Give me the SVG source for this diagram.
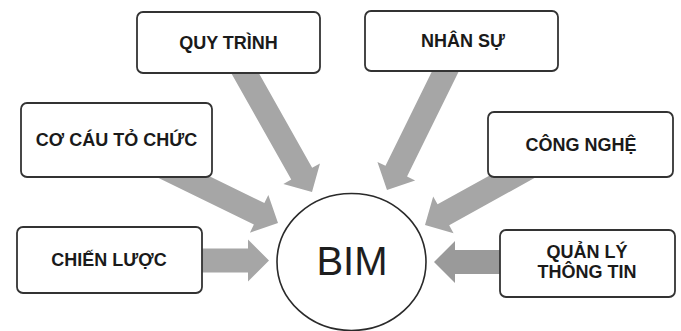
<svg xmlns="http://www.w3.org/2000/svg" width="681" height="331" viewBox="0 0 681 331">
  <style>
    .box { fill: #ffffff; stroke: #333333; stroke-width: 1.8; }
    .lbl { font-family: "Liberation Sans", Arial, sans-serif; font-weight: bold; font-size: 18px; fill: #1a1a1a; text-anchor: middle; }
    .hub { fill: #ffffff; stroke: #2a2a2a; stroke-width: 1.6; }
    .hubtxt { font-family: "Liberation Sans", Arial, sans-serif; font-size: 40px; fill: #1e1e1e; text-anchor: middle; }
    .arr { fill: #a6a6a6; }
    .arr2 { fill: #9a9a9a; }
  </style>
  <rect width="681" height="331" fill="#ffffff"/>
  <g id="connectors">
    <!-- QUY TRINH -> BIM -->
    <polygon class="arr" transform="translate(312,192) rotate(60.6)" points="-150,-12 -21,-12 -21,-21 0,0 -21,21 -21,12 -150,12"/>
    <!-- CO CAU TO CHUC -> BIM -->
    <polygon class="arr" transform="translate(278,223) rotate(26)" points="-135,-12 -21,-12 -21,-21 0,0 -21,21 -21,12 -135,12"/>
    <!-- CHIEN LUOC -> BIM -->
    <polygon class="arr" transform="translate(269,260.5) rotate(0)" points="-80,-12 -21,-12 -21,-21 0,0 -21,21 -21,12 -80,12"/>
    <!-- NHAN SU -> BIM -->
    <polygon class="arr" transform="translate(387,190) rotate(116.2)" points="-145,-12 -21,-12 -21,-21 0,0 -21,21 -21,12 -145,12"/>
    <!-- CONG NGHE -> BIM -->
    <polygon class="arr" transform="translate(425,225) rotate(151)" points="-120,-12 -21,-12 -21,-21 0,0 -21,21 -21,12 -120,12"/>
    <!-- QUAN LY THONG TIN -> BIM -->
    <polygon class="arr2" transform="translate(434,262) rotate(180)" points="-80,-12 -21,-12 -21,-21 0,0 -21,21 -21,12 -80,12"/>
  </g>
  <g id="node-quy-trinh">
    <rect class="box" x="137" y="12" width="183" height="61" rx="6"/>
    <text class="lbl" x="228.5" y="49">QUY TRÌNH</text>
  </g>
  <g id="node-co-cau">
    <rect class="box" x="21" y="103" width="191" height="74" rx="6"/>
    <text class="lbl" x="116.5" y="146">CƠ CÁU TỎ CHỨC</text>
  </g>
  <g id="node-chien-luoc">
    <rect class="box" x="17" y="227" width="185" height="66" rx="6"/>
    <text class="lbl" x="109" y="266">CHIẾN LƯỢC</text>
  </g>
  <g id="node-nhan-su">
    <rect class="box" x="365" y="11" width="193" height="60" rx="6"/>
    <text class="lbl" x="463" y="47">NHÂN SỰ</text>
  </g>
  <g id="node-cong-nghe">
    <rect class="box" x="488" y="112" width="185" height="65" rx="6"/>
    <text class="lbl" x="581" y="151">CÔNG NGHỆ</text>
  </g>
  <g id="node-quan-ly">
    <rect class="box" x="500" y="230" width="175" height="67" rx="6"/>
    <text class="lbl" x="587" y="258">QUẢN LÝ</text>
    <text class="lbl" x="587" y="278">THÔNG TIN</text>
  </g>
  <g id="node-bim">
    <ellipse class="hub" cx="351.5" cy="262" rx="74.5" ry="68.5"/>
    <text class="hubtxt" x="352" y="275">BIM</text>
  </g>
</svg>
